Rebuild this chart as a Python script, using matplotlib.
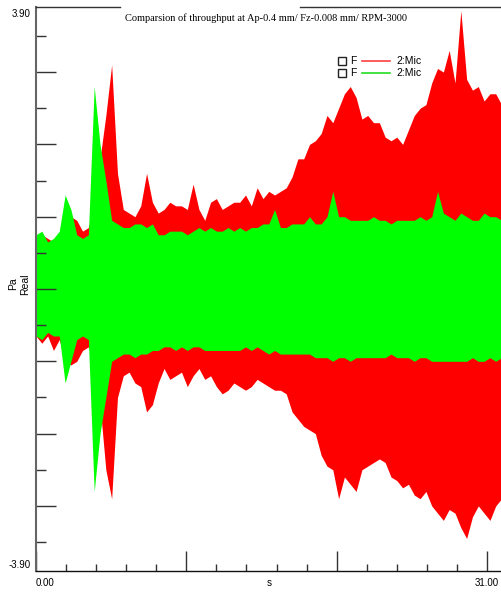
import numpy as np
import matplotlib.pyplot as plt
from matplotlib.ticker import MultipleLocator

# sample times (s) of the envelope
t = np.linspace(0, 32, 81)

red_upper = [0.75, 0.75, 0.70, 0.65, 0.75, 0.90, 1.00, 0.95, 0.80, 0.85,
             1.20, 1.80, 2.40, 3.10, 1.60, 1.10, 1.05, 1.00, 1.15, 1.60,
             1.20, 1.05, 1.10, 1.20, 1.15, 1.15, 1.10, 1.45, 1.10, 0.95,
             1.20, 1.25, 1.10, 1.15, 1.20, 1.20, 1.30, 1.15, 1.40, 1.25,
             1.35, 1.30, 1.35, 1.40, 1.55, 1.80, 1.80, 2.00, 2.05, 2.15,
             2.40, 2.30, 2.50, 2.70, 2.80, 2.65, 2.35, 2.40, 2.30, 2.30,
             2.10, 2.05, 2.10, 2.00, 2.20, 2.40, 2.50, 2.55, 2.85, 3.05,
             3.00, 3.30, 2.85, 3.85, 2.90, 2.75, 2.80, 2.60, 2.70, 2.70,
             2.55]
red_lower = [-0.65, -0.75, -0.65, -0.85, -0.70, -1.00, -1.05, -1.00, -0.85, -0.80,
             -1.00, -1.60, -2.50, -2.90, -1.50, -1.20, -1.15, -1.30, -1.35, -1.70,
             -1.60, -1.30, -1.10, -1.25, -1.20, -1.15, -1.35, -1.20, -1.10, -1.25,
             -1.20, -1.35, -1.45, -1.40, -1.30, -1.35, -1.40, -1.35, -1.25, -1.30,
             -1.35, -1.40, -1.40, -1.45, -1.70, -1.80, -1.90, -1.95, -2.00, -2.30,
             -2.45, -2.50, -2.90, -2.60, -2.70, -2.80, -2.50, -2.45, -2.40, -2.35,
             -2.40, -2.60, -2.65, -2.75, -2.70, -2.85, -2.90, -2.80, -3.00, -3.10,
             -3.20, -3.05, -3.10, -3.30, -3.45, -3.15, -3.00, -3.10, -3.20, -3.00,
             -2.90]
green_upper = [0.75, 0.80, 0.65, 0.70, 0.80, 1.30, 1.10, 0.75, 0.70, 0.75,
               2.80, 2.00, 1.50, 0.95, 0.90, 0.85, 0.85, 0.90, 0.90, 0.85,
               0.90, 0.75, 0.75, 0.80, 0.80, 0.80, 0.75, 0.80, 0.85, 0.80,
               0.85, 0.80, 0.80, 0.85, 0.80, 0.85, 0.80, 0.85, 0.85, 0.90,
               0.90, 1.10, 0.85, 0.85, 0.90, 0.90, 0.90, 1.00, 0.90, 0.90,
               1.00, 1.35, 1.00, 1.00, 0.95, 0.95, 0.95, 0.95, 1.00, 0.95,
               0.95, 0.90, 0.95, 0.95, 0.95, 0.95, 1.00, 0.95, 1.00, 1.35,
               1.05, 1.00, 0.95, 1.05, 1.00, 0.95, 0.95, 1.05, 1.00, 1.00,
               0.95]
green_lower = [-0.65, -0.70, -0.60, -0.65, -0.65, -1.30, -1.00, -0.70, -0.65, -0.70,
               -2.80, -2.00, -1.50, -1.00, -0.95, -0.90, -0.90, -0.95, -0.90, -0.90,
               -0.85, -0.85, -0.80, -0.80, -0.85, -0.80, -0.85, -0.80, -0.80, -0.85,
               -0.85, -0.85, -0.85, -0.85, -0.85, -0.85, -0.80, -0.85, -0.80, -0.85,
               -0.90, -0.85, -0.90, -0.90, -0.90, -0.90, -0.90, -0.90, -0.95, -0.95,
               -0.95, -1.00, -0.95, -0.95, -1.00, -0.95, -0.95, -0.95, -0.95, -0.95,
               -0.95, -0.90, -0.95, -0.95, -0.95, -1.00, -0.95, -0.95, -1.00, -1.00,
               -1.00, -1.00, -1.00, -1.00, -1.00, -0.95, -1.00, -1.00, -0.95, -1.00,
               -0.95]

W, H = 502, 592
fig = plt.figure(figsize=(W / 100, H / 100), dpi=100)
ax = fig.add_axes([36 / W, 21 / H, 466 / W, 564 / H])

ax.fill_between(t, red_lower, red_upper, color="#ff0000", lw=0)
ax.fill_between(t, green_lower, green_upper, color="#00ff00", lw=0)

ax.set_xlim(0, 32.03)
ax.set_ylim(-3.9, 3.9)

ax.yaxis.set_major_locator(MultipleLocator(1))
ax.yaxis.set_minor_locator(MultipleLocator(0.5))
ax.xaxis.set_major_locator(MultipleLocator(31 / 3))
ax.xaxis.set_minor_locator(MultipleLocator(31 / 15))
ax.tick_params(labelbottom=False, labelleft=False)
ax.tick_params(axis="y", which="major", direction="in", length=14.4, width=1, color="#333333")
ax.tick_params(axis="y", which="minor", direction="in", length=7.2, width=1, color="#333333")
ax.tick_params(axis="x", which="major", direction="in", length=14.4, width=1, color="#333333")
ax.tick_params(axis="x", which="minor", direction="in", length=5, width=1, color="#333333")

for s in ["top", "right"]:
    ax.spines[s].set_visible(False)
ax.spines["left"].set_color("#666666")
ax.spines["left"].set_linewidth(1.5)
ax.spines["bottom"].set_color("#111111")
ax.spines["bottom"].set_linewidth(1)
for s in ax.spines.values():
    s.set_zorder(5)


def ax_pt(px, py):
    return (px - 36) / 466, (571 - py) / 564


# top border (broken behind the title)
for x0, x1 in [(36, 120), (300, 502)]:
    a0, b0 = ax_pt(x0, 7)
    a1, _ = ax_pt(x1, 7)
    ax.plot([a0, a1], [b0, b0], color="#333333", lw=1, transform=ax.transAxes,
            clip_on=False, zorder=6)

sans = "Liberation Sans"
ax.text(-0.012, 0.996, "3.90", transform=ax.transAxes, ha="right", va="top",
        fontsize=7, family=sans)
ax.text(-0.012, 0.002, "-3.90", transform=ax.transAxes, ha="right", va="bottom",
        fontsize=7, family=sans)
ax.text(0.0, -0.012, "0.00", transform=ax.transAxes, ha="left", va="top",
        fontsize=7, family=sans)
ax.text(31, -0.012, "31.00", transform=ax.get_xaxis_transform(), ha="center",
        va="top", fontsize=7, family=sans)
ax.text(0.5, -0.012, "s", transform=ax.transAxes, ha="center", va="top",
        fontsize=7, family=sans)
ax.text(*ax_pt(19, 284), "Pa\nReal", transform=ax.transAxes, ha="center",
        va="center", rotation=90, fontsize=7.5, family=sans, multialignment="center")

ax.text(*ax_pt(266, 18), "Comparsion of throughput at Ap-0.4 mm/ Fz-0.008 mm/ RPM-3000",
        transform=ax.transAxes, ha="center", va="center", fontsize=7.5,
        family="Liberation Serif")

# legend
for py, col in [(61, "#ff4040"), (73, "#22dd22")]:
    ax.plot(*ax_pt(342, py), marker="s", ms=6, mfc="white", mec="#222222", mew=1,
            transform=ax.transAxes, clip_on=False, zorder=7)
    ax.text(*ax_pt(350, py), "F", transform=ax.transAxes, ha="left", va="center",
            fontsize=7.5, family=sans)
    a0, b0 = ax_pt(362, py)
    a1, _ = ax_pt(390, py)
    ax.plot([a0, a1], [b0, b0], color=col, lw=1.2, transform=ax.transAxes,
            clip_on=False, zorder=7)
    ax.text(*ax_pt(396, py), "2:Mic", transform=ax.transAxes, ha="left",
            va="center", fontsize=7.5, family=sans)

fig.savefig("out.png", dpi=100)
